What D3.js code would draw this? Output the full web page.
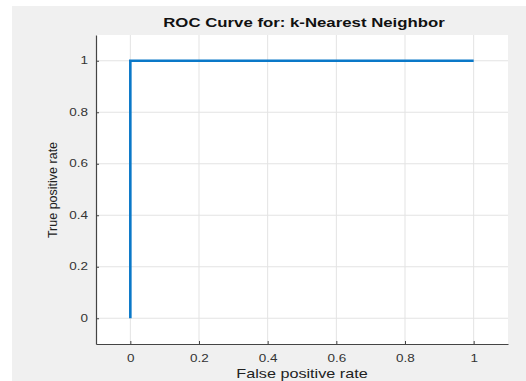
<html>
  <head>
    <meta charset="utf-8">
    <script src="https://cdn.jsdelivr.net/npm/d3@7"></script>
    <style>
      body { margin: 0; background: #fff; }
      text { font-family: "Liberation Sans", Arial, sans-serif; }
    </style>
  </head>
  <body>
    <script>
      var W = 526, H = 381;
      var m = {left: 96, right: 18, top: 35, bottom: 37};

      var fpr = [0, 0, 1];
      var tpr = [0, 1, 1];
      var xTicks = [0, 0.2, 0.4, 0.6, 0.8, 1];
      var yTicks = [0, 0.2, 0.4, 0.6, 0.8, 1];
      var xTickLabels = ["0", "0.2", "0.4", "0.6", "0.8", "1"];
      var yTickLabels = ["0", "0.2", "0.4", "0.6", "0.8", "1"];

      var sx = 1.35; // the picture is stretched sideways

      var svg = d3.select("body").append("svg")
        .attr("width", W).attr("height", H);

      // gray figure background
      svg.append("rect").attr("x", 12).attr("y", 6)
        .attr("width", W - 12).attr("height", H - 6).attr("fill", "#f0f0f0");

      var x = d3.scaleLinear().domain([-0.1, 1.1]).range([m.left, W - m.right]);
      var y = d3.scaleLinear().domain([-0.1, 1.1]).range([H - m.bottom, m.top]);

      svg.append("rect").attr("x", x(-0.1)).attr("y", y(1.1))
        .attr("width", x(1.1) - x(-0.1)).attr("height", y(-0.1) - y(1.1))
        .attr("fill", "#fff");

      // grid
      svg.selectAll(".gx").data(xTicks).enter().append("line")
        .attr("x1", d => x(d)).attr("x2", d => x(d))
        .attr("y1", y(-0.1)).attr("y2", y(1.1))
        .attr("stroke", "#e3e3e3").attr("stroke-width", 1);
      svg.selectAll(".gy").data(yTicks).enter().append("line")
        .attr("x1", x(-0.1)).attr("x2", x(1.1))
        .attr("y1", d => y(d)).attr("y2", d => y(d))
        .attr("stroke", "#e3e3e3").attr("stroke-width", 1);

      // curve
      var pts = fpr.map((v, i) => [v, tpr[i]]);
      svg.append("path")
        .attr("d", d3.line().x(d => x(d[0])).y(d => y(d[1]))(pts))
        .attr("fill", "none").attr("stroke", "#0a78c8").attr("stroke-width", 2.6);

      // axes (ticks inward)
      var xAxis = svg.append("g").attr("transform", "translate(0," + y(-0.1) + ")")
        .call(d3.axisBottom(x).tickValues(xTicks).tickSize(-3).tickSizeOuter(0)
          .tickFormat((d, i) => xTickLabels[i]));
      var yAxis = svg.append("g").attr("transform", "translate(" + x(-0.1) + ",0)")
        .call(d3.axisLeft(y).tickValues(yTicks).tickSize(-3).tickSizeOuter(0)
          .tickFormat((d, i) => yTickLabels[i]));

      [xAxis, yAxis].forEach(function(g) {
        g.select(".domain").attr("stroke", "#444").attr("stroke-width", 1.2);
        g.selectAll(".tick line").attr("stroke", "#444");
        g.selectAll(".tick text").attr("font-size", 10).attr("fill", "#333");
      });
      xAxis.selectAll(".tick text").attr("y", 11)
        .attr("transform", "scale(" + sx + ",1)");
      yAxis.selectAll(".tick text").attr("x", -8 / sx).attr("text-anchor", "end")
        .attr("transform", "scale(" + sx + ",1)");

      // title and labels
      svg.append("text")
        .attr("transform", "translate(304,27) scale(1.4,1)")
        .attr("text-anchor", "middle").attr("font-size", 12).attr("font-weight", "bold")
        .attr("fill", "#111").text("ROC Curve for: k-Nearest Neighbor");

      svg.append("text")
        .attr("transform", "translate(302,378) scale(" + sx + ",1)")
        .attr("text-anchor", "middle").attr("font-size", 12).attr("fill", "#222")
        .text("False positive rate");

      svg.append("text")
        .attr("transform", "translate(57,190) rotate(-90)")
        .attr("text-anchor", "middle").attr("font-size", 12.5).attr("fill", "#222")
        .text("True positive rate");
    </script>
  </body>
</html>
